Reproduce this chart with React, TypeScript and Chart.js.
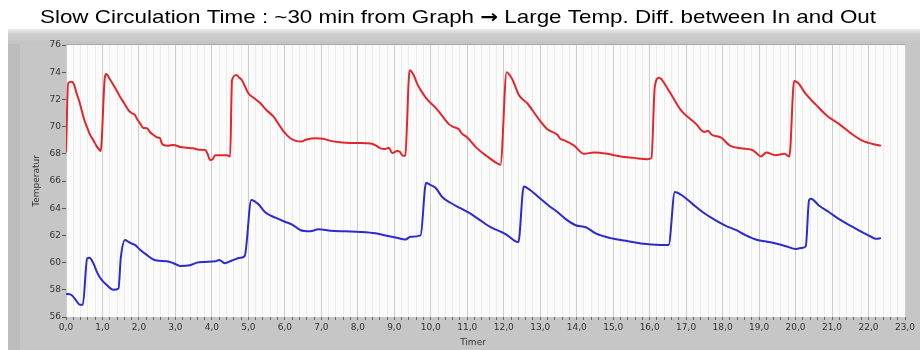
import { useEffect, useRef } from 'react';
import { Chart, registerables } from 'chart.js';

Chart.register(...registerables);

const TITLE_LEFT = 'Slow Circulation Time : ~30 min from Graph ';
const TITLE_ARROW = '\u2192';
const TITLE_RIGHT = ' Large Temp. Diff. between In and Out';
const X_TITLE = 'Timer';
const Y_TITLE = 'Temperatur';

// Outlet temperature (red) — time in hours, temperature in °C
const redTime = [
  0.0, 0.06, 0.16, 0.22, 0.29, 0.36, 0.43, 0.5, 0.57, 0.66, 0.75, 0.83, 0.91, 0.95,
  1.06, 1.1, 1.2, 1.3, 1.4, 1.48, 1.6, 1.71, 1.8, 1.89, 1.96, 2.03, 2.12, 2.22, 2.3,
  2.4, 2.5, 2.58, 2.62, 2.67, 2.8, 2.95, 3.13, 3.3, 3.49, 3.65, 3.82, 3.88, 3.95, 4.02,
  4.09, 4.25, 4.41, 4.5, 4.55, 4.67, 4.75, 4.82, 4.9, 5.0, 5.15, 5.33, 5.5, 5.69, 5.85,
  5.97, 6.15, 6.3, 6.45, 6.6, 6.84, 7.05, 7.25, 7.5, 7.8, 8.1, 8.35, 8.5, 8.62, 8.75,
  8.85, 8.94, 9.08, 9.15, 9.24, 9.3, 9.42, 9.53, 9.62, 9.72, 9.9, 10.13, 10.31, 10.49,
  10.6, 10.77, 10.85, 11.0, 11.27, 11.55, 11.82, 11.91, 12.08, 12.23, 12.42, 12.65,
  12.92, 13.2, 13.47, 13.55, 13.65, 13.93, 14.2, 14.47, 14.84, 15.21, 15.57, 15.94,
  16.05, 16.14, 16.26, 16.49, 16.86, 17.27, 17.5, 17.6, 17.7, 17.95, 18.2, 18.5, 18.8,
  18.95, 19.05, 19.2, 19.45, 19.7, 19.83, 19.96, 20.07, 20.28, 20.56, 20.86, 21.19,
  21.52, 21.8, 22.0, 22.15, 22.34,
];
const redTemp = [
  68.1, 73.2, 73.3, 73.1, 72.45, 71.9, 71.2, 70.5, 70.0, 69.4, 69.0, 68.6, 68.3, 68.2,
  73.5, 73.87, 73.5, 73.06, 72.6, 72.2, 71.7, 71.22, 71.0, 70.85, 70.5, 70.24, 69.9, 69.88, 69.6,
  69.38, 69.2, 69.14, 68.8, 68.65, 68.6, 68.65, 68.5, 68.45, 68.4, 68.3, 68.28, 68.0, 67.54, 67.6,
  67.9, 67.9, 67.9, 67.8, 73.4, 73.8, 73.6, 73.43, 73.0, 72.45, 72.1, 71.71, 71.2, 70.73, 70.1,
  69.63, 69.14, 68.95, 68.9, 69.05, 69.15, 69.1, 68.95, 68.85, 68.8, 68.8, 68.75, 68.6, 68.4, 68.35,
  68.45, 68.05, 68.2, 68.15, 67.85, 67.9, 74.15, 73.8, 73.2, 72.7, 72.0, 71.4, 70.8, 70.2,
  70.0, 69.8, 69.5, 69.2, 68.4, 67.8, 67.3, 67.2, 74.0, 73.5, 72.3, 71.7,
  70.7, 69.8, 69.4, 69.1, 69.0, 68.6, 68.0, 68.1, 68.0, 67.8, 67.7, 67.6,
  67.7, 72.9, 73.6, 72.8, 71.2, 70.2, 69.6, 69.7, 69.4, 69.2, 68.6, 68.4, 68.3,
  68.0, 67.8, 68.1, 67.9, 68.0, 67.8, 73.35, 73.2, 72.4, 71.6, 70.8, 70.2,
  69.5, 69.0, 68.8, 68.7, 68.6,
];

// Inlet temperature (blue)
const blueTime = [
  0.0, 0.16, 0.28, 0.38, 0.46, 0.58, 0.64, 0.75, 0.85, 0.93, 1.02, 1.12, 1.22, 1.3, 1.44,
  1.5, 1.62, 1.7, 1.76, 1.89, 2.03, 2.22, 2.35, 2.49, 2.76, 2.95, 3.13, 3.4, 3.59, 3.8,
  4.1, 4.2, 4.35, 4.55, 4.78, 4.9, 5.08, 5.27, 5.46, 5.74, 6.0, 6.2, 6.42, 6.7, 6.92,
  7.25, 7.66, 8.07, 8.48, 8.76, 9.03, 9.31, 9.44, 9.72, 9.87, 10.0, 10.13, 10.32, 10.54,
  10.81, 11.09, 11.36, 11.64, 12.05, 12.3, 12.4, 12.55, 12.74, 12.96, 13.23, 13.48, 13.7,
  13.97, 14.25, 14.52, 14.93, 15.35, 15.76, 16.31, 16.52, 16.69, 16.91, 17.18, 17.46,
  17.81, 18.09, 18.36, 18.64, 18.91, 19.19, 19.46, 19.74, 20.01, 20.2, 20.28, 20.37,
  20.42, 20.64, 20.92, 21.25, 21.58, 21.85, 22.07, 22.2, 22.34,
];
const blueTemp = [
  57.7, 57.6, 57.2, 56.9, 56.9, 60.3, 60.35, 59.95, 59.3, 58.9, 58.6, 58.35, 58.1, 58.0, 58.1,
  60.3, 61.66, 61.55, 61.45, 61.3, 60.95, 60.55, 60.3, 60.15, 60.1, 59.95, 59.75, 59.8, 60.0, 60.05,
  60.1, 60.2, 59.95, 60.15, 60.35, 60.5, 64.6, 64.3, 63.7, 63.3, 63.0, 62.8, 62.4, 62.3, 62.45,
  62.35, 62.3, 62.25, 62.15, 62.0, 61.85, 61.7, 61.9, 62.0, 65.85, 65.7, 65.5, 64.8, 64.4,
  64.0, 63.6, 63.1, 62.6, 62.1, 61.6, 61.5, 65.6, 65.3, 64.8, 64.2, 63.7, 63.2,
  62.75, 62.6, 62.15, 61.8, 61.6, 61.4, 61.3, 61.3, 65.2, 64.9, 64.3, 63.7,
  63.1, 62.7, 62.4, 62.0, 61.7, 61.55, 61.4, 61.2, 61.0, 61.1, 61.2, 64.6,
  64.7, 64.2, 63.7, 63.1, 62.6, 62.2, 61.9, 61.75, 61.8,
];

const X_MIN = 0;
const X_MAX = 23;
const X_MINOR_STEP = 0.2;
const Y_MIN = 56;
const Y_MAX = 76;
const Y_STEP = 2;

const toPoints = (xs: number[], ys: number[]) => xs.map((x, i) => ({ x, y: ys[i] }));
const isWhole = (v: number) => Math.abs(v - Math.round(v)) < 1e-6;

const TICK_FONT = { family: "'DejaVu Sans', sans-serif", size: 9 };
const HEAD_FONT = "19px 'Liberation Sans', Arial, sans-serif";
const ARROW_FONT = "bold 18px 'DejaVu Sans', sans-serif";

// Grey instrument-style panel behind the plot, plus the headline
const panelPlugin = {
  id: 'panel',
  beforeDraw(chart: any) {
    const { ctx, chartArea: a } = chart;
    ctx.save();
    ctx.fillStyle = '#ffffff';
    ctx.fillRect(0, 0, chart.width, chart.height);
    // outer panel
    const g = ctx.createLinearGradient(0, 29, 0, 44);
    g.addColorStop(0, '#ececec');
    g.addColorStop(0.35, '#cdcdcd');
    g.addColorStop(1, '#c4c4c4');
    ctx.fillStyle = g;
    ctx.fillRect(8, 29, 912, 16);
    ctx.fillStyle = '#c6c6c6';
    ctx.fillRect(8, 44, 912, chart.height - 44);
    ctx.fillStyle = '#bdbdbd';
    ctx.fillRect(8, 44, 12, chart.height - 44);
    // plot background
    ctx.fillStyle = '#fbfbfb';
    ctx.fillRect(a.left, a.top, a.right - a.left, a.bottom - a.top);
    ctx.strokeStyle = '#a9a9a9';
    ctx.lineWidth = 1;
    ctx.beginPath();
    ctx.moveTo(a.left, a.top - 0.5);
    ctx.lineTo(a.right + 0.5, a.top - 0.5);
    ctx.lineTo(a.right + 0.5, a.bottom);
    ctx.stroke();

    // headline, fitted to span 40..876 px
    ctx.fillStyle = '#000000';
    ctx.textBaseline = 'alphabetic';
    ctx.textAlign = 'left';
    ctx.font = HEAD_FONT;
    const wl = ctx.measureText(TITLE_LEFT).width;
    const wr = ctx.measureText(TITLE_RIGHT).width;
    ctx.font = ARROW_FONT;
    const wa = ctx.measureText(TITLE_ARROW).width;
    const sx = 836 / (wl + wa + wr);
    ctx.translate(40, 23);
    ctx.scale(sx, 1);
    ctx.font = HEAD_FONT;
    ctx.fillText(TITLE_LEFT, 0, 0);
    ctx.font = ARROW_FONT;
    ctx.fillText(TITLE_ARROW, wl, 0);
    ctx.font = HEAD_FONT;
    ctx.fillText(TITLE_RIGHT, wl + wa, 0);
    ctx.restore();
  },
  afterDraw(chart: any) {
    const { ctx } = chart;
    ctx.save();
    ctx.fillStyle = '#333333';
    ctx.font = "9px 'DejaVu Sans', sans-serif";
    ctx.textAlign = 'center';
    ctx.textBaseline = 'middle';
    ctx.fillText(X_TITLE, 473, 343);
    ctx.restore();
  },
};

export default function App() {
  const canvasRef = useRef<HTMLCanvasElement | null>(null);

  useEffect(() => {
    const canvas = canvasRef.current;
    if (!canvas) return;
    const chart = new Chart(canvas, {
      type: 'line',
      data: {
        datasets: [
          {
            label: 'Out',
            data: toPoints(redTime, redTemp),
            borderColor: '#e3262b',
            borderWidth: 2,
            pointRadius: 0,
            cubicInterpolationMode: 'monotone',
            fill: false,
          },
          {
            label: 'In',
            data: toPoints(blueTime, blueTemp),
            borderColor: '#2b2bcf',
            borderWidth: 2,
            pointRadius: 0,
            cubicInterpolationMode: 'monotone',
            fill: false,
          },
        ],
      },
      options: {
        responsive: false,
        animation: false,
        devicePixelRatio: 1,
        layout: { padding: { left: 0, right: 19, top: 45, bottom: 0 } },
        plugins: {
          legend: { display: false },
          tooltip: { enabled: false },
          title: { display: false },
        },
        scales: {
          x: {
            type: 'linear',
            min: X_MIN,
            max: X_MAX,
            afterFit: (s: any) => {
              s.height = 33;
            },
            border: { display: false },
            grid: {
              color: (c: any) => (isWhole(c.tick?.value ?? 0) ? '#cdcdcd' : '#ececec'),
              tickColor: '#6a6a6a',
              tickLength: 3,
              lineWidth: 1,
            },
            ticks: {
              stepSize: X_MINOR_STEP,
              maxTicksLimit: 1000,
              autoSkip: false,
              maxRotation: 0,
              padding: 2,
              color: '#333333',
              font: TICK_FONT,
              callback: (v: any) => (isWhole(Number(v)) ? Number(v).toFixed(1).replace('.', ',') : ''),
            },
          },
          y: {
            type: 'linear',
            min: Y_MIN,
            max: Y_MAX,
            afterFit: (s: any) => {
              s.width = 66;
            },
            border: { display: false },
            grid: {
              drawOnChartArea: false,
              drawTicks: true,
              tickLength: 4,
              tickColor: '#555555',
            },
            ticks: {
              stepSize: Y_STEP,
              padding: 1,
              color: '#333333',
              font: TICK_FONT,
            },
            title: {
              display: true,
              text: Y_TITLE,
              color: '#333333',
              font: TICK_FONT,
              padding: { top: 31, bottom: 0 },
            },
          },
        },
      },
      plugins: [panelPlugin],
    });
    return () => chart.destroy();
  }, []);

  return (
    <div style={{ position: 'fixed', left: 0, top: 0, width: 924, height: 350 }}>
      <canvas ref={canvasRef} width={924} height={350} style={{ display: 'block' }} />
    </div>
  );
}
